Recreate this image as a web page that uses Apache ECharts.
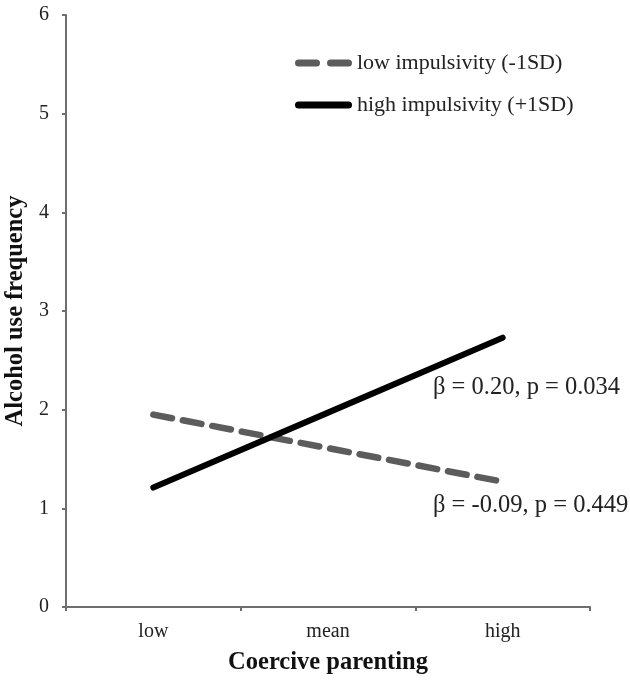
<!DOCTYPE html>
<html><head><meta charset="utf-8">
<script src="https://cdn.jsdelivr.net/npm/echarts@6/dist/echarts.min.js"></script>
<style>html,body{margin:0;padding:0;background:#fff}#c{width:630px;height:684px}</style>
</head><body><div id="c"></div>
<script>
const categories = ['low', 'mean', 'high'];
const lowImpulsivity = [1.95, 1.61, 1.27];
const highImpulsivity = [1.21, 1.97, 2.73];
const yTicks = [0, 6, 1];
const seriesNames = ['low impulsivity (-1SD)', 'high impulsivity (+1SD)'];
const annotations = ['β = 0.20, p = 0.034', 'β = -0.09, p = 0.449'];

const FONT = '"Liberation Serif", "DejaVu Serif", serif';
const dashIcon = 'path://M3.5,0 H21.5 A3.5,3.5 0 0 1 21.5,7 H3.5 A3.5,3.5 0 0 1 3.5,0 Z M35.5,0 H53.5 A3.5,3.5 0 0 1 53.5,7 H35.5 A3.5,3.5 0 0 1 35.5,0 Z';
const solidIcon = 'path://M3.5,0 H53.5 A3.5,3.5 0 0 1 53.5,7 H3.5 A3.5,3.5 0 0 1 3.5,0 Z';
const chart = echarts.init(document.getElementById('c'));
chart.setOption({
  animation: false,
  textStyle: { fontFamily: FONT },
  grid: { left: 66, right: 40, top: 15, bottom: 77, containLabel: false, outerBoundsMode: 'none' },
  legend: {
    left: 290, top: 47, orient: 'vertical', itemWidth: 57, itemHeight: 7, itemGap: 20,
    itemTextGap: 4,
    textStyle: { fontFamily: FONT, fontSize: 22, color: '#222' },
    data: [
      { name: seriesNames[0], icon: dashIcon },
      { name: seriesNames[1], icon: solidIcon }
    ]
  },
  xAxis: {
    type: 'category', data: categories, boundaryGap: true,
    axisLine: { lineStyle: { color: '#6e6e6e', width: 2 } },
    axisTick: { show: true, length: 4, lineStyle: { color: '#6e6e6e', width: 2 } },
    axisLabel: { fontFamily: FONT, fontSize: 20, color: '#222', margin: 15 },
    name: 'Coercive parenting', nameLocation: 'middle', nameGap: 43,
    nameTextStyle: { fontFamily: FONT, fontSize: 24.5, fontWeight: 'bold', color: '#111' }
  },
  yAxis: {
    type: 'value', min: yTicks[0], max: yTicks[1], interval: yTicks[2],
    splitLine: { show: false },
    axisLine: { show: true, lineStyle: { color: '#6e6e6e', width: 2 } },
    axisTick: { show: true, length: 4, lineStyle: { color: '#6e6e6e', width: 2 } },
    axisLabel: { fontFamily: FONT, fontSize: 20, color: '#222', margin: 17 },
    name: 'Alcohol use frequency', nameLocation: 'middle', nameGap: 33,
    nameTextStyle: { fontFamily: FONT, fontSize: 24.5, fontWeight: 'bold', color: '#111' }
  },
  series: [
    { name: seriesNames[0], type: 'line', data: lowImpulsivity, symbol: 'none',
      lineStyle: { color: '#5c5c5c', width: 6.5, type: [19, 11], cap: 'round' },
      itemStyle: { color: '#5c5c5c' } },
    { name: seriesNames[1], type: 'line', data: highImpulsivity, symbol: 'none',
      lineStyle: { color: '#000', width: 6, cap: 'round' },
      itemStyle: { color: '#000' } }
  ],
  graphic: [
    { type: 'text', left: 433, top: 375, style: { text: annotations[0], font: '24.5px ' + FONT, fill: '#222' } },
    { type: 'text', left: 433, top: 493, style: { text: annotations[1], font: '24.5px ' + FONT, fill: '#222' } }
  ]
});
</script></body></html>
